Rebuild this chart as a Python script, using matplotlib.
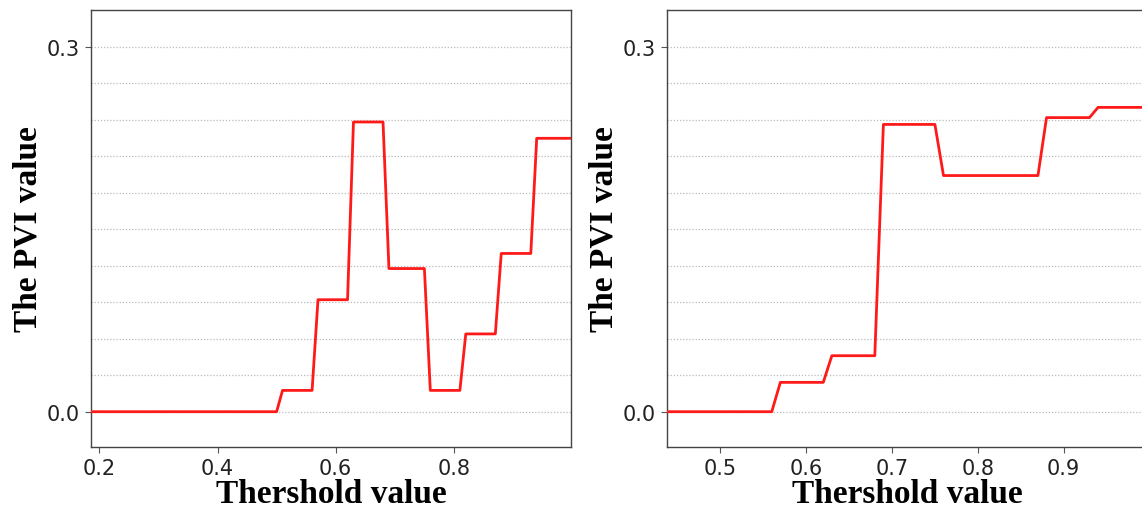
import numpy as np
import matplotlib
matplotlib.use('Agg')
import matplotlib.pyplot as plt

# threshold breakpoints and PVI values
left_thr = [0.18, 0.50, 0.51, 0.56, 0.57, 0.62, 0.63, 0.68, 0.69,
            0.75, 0.76, 0.81, 0.82, 0.87, 0.88, 0.93, 0.94, 1.00]
left_pvi = [0.0, 0.0, 0.0175, 0.0175, 0.092, 0.092, 0.238, 0.238, 0.1176,
            0.1176, 0.0175, 0.0175, 0.0639, 0.0639, 0.130, 0.130, 0.2246, 0.2246]

right_thr = [0.43, 0.56, 0.57, 0.62, 0.63, 0.68, 0.69, 0.75, 0.76,
             0.87, 0.88, 0.93, 0.94, 1.00]
right_pvi = [0.0, 0.0, 0.0241, 0.0241, 0.046, 0.046, 0.236, 0.236, 0.194,
             0.194, 0.2416, 0.2416, 0.250, 0.250]

left_xticks = [0.2, 0.4, 0.6, 0.8]
right_xticks = [0.5, 0.6, 0.7, 0.8, 0.9]
yticks = [0.0, 0.3]
grid_levels = np.arange(0.0, 0.301, 0.03)

W, H = 1142, 510
fig = plt.figure(figsize=(W / 100, H / 100), dpi=100)

label_font = dict(family='Liberation Serif', weight='bold', size=24)

panels = [
    (91, left_thr, left_pvi, left_xticks, (0.186, 0.998)),
    (667, right_thr, right_pvi, right_xticks, (0.438, 0.997)),
]

for x0, thr, pvi, xt, xl in panels:
    ax = fig.add_axes([x0 / W, (H - 448) / H, 480 / W, 437 / H])
    for g in grid_levels:
        ax.axhline(g, color='#bbbbbb', linestyle=(0, (1, 1.5)), linewidth=0.9, zorder=0)
    ax.plot(thr, pvi, color='#ff1a1a', linewidth=2.0, zorder=3)
    ax.set_xlim(*xl)
    ax.set_ylim(-0.029, 0.330)
    ax.set_xticks(xt)
    ax.set_xticklabels([str(v) for v in xt])
    ax.set_yticks(yticks)
    ax.set_yticklabels(['0.0', '0.3'])
    ax.tick_params(labelsize=15, length=4, width=0.8, color='#555555',
                   labelcolor='#222222', pad=4)
    for sp in ax.spines.values():
        sp.set_color('#444444')
        sp.set_linewidth(1.0)
    ax.set_xlabel('Thershold value', fontdict=label_font, labelpad=0)
    ax.set_ylabel('The PVI value', fontdict=label_font, labelpad=2)

fig.savefig('out.png', dpi=100)
